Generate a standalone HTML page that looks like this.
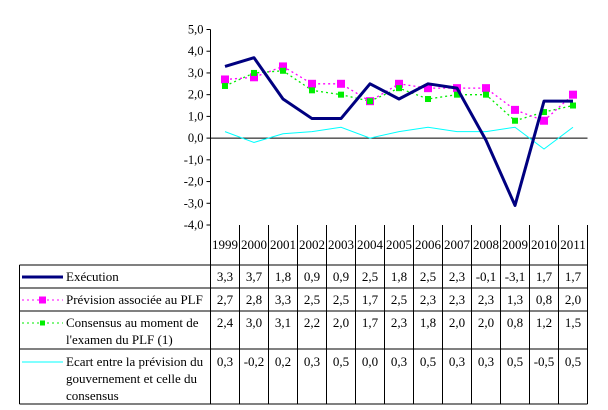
<!DOCTYPE html>
<html><head><meta charset="utf-8"><style>
body{margin:0;background:#fff;}
svg{display:block;font-family:"Liberation Serif",serif;}
</style></head><body>
<svg id="c" width="608" height="410" viewBox="0 0 608 410"></svg>
<script>
const years=["1999","2000","2001","2002","2003","2004","2005","2006","2007","2008","2009","2010","2011"];
const execution=[3.3,3.7,1.8,0.9,0.9,2.5,1.8,2.5,2.3,-0.1,-3.1,1.7,1.7];
const prevision=[2.7,2.8,3.3,2.5,2.5,1.7,2.5,2.3,2.3,2.3,1.3,0.8,2.0];
const consensus=[2.4,3.0,3.1,2.2,2.0,1.7,2.3,1.8,2.0,2.0,0.8,1.2,1.5];
const ecart=[0.3,-0.2,0.2,0.3,0.5,0.0,0.3,0.5,0.3,0.3,0.5,-0.5,0.5];
const yTicks=[5,4,3,2,1,0,-1,-2,-3,-4];
const NS="http://www.w3.org/2000/svg";
const svg=document.getElementById('c');
const X0=210.5,CW=29,Y5=29.5,Y4=225;
const xs=i=>X0+CW*(i+0.5);
const ys=v=>Y5+(5-v)*(Y4-Y5)/9;
function el(t,a,p){const e=document.createElementNS(NS,t);for(const k in a)e.setAttribute(k,a[k]);(p||svg).appendChild(e);return e;}
const fmt=v=>v.toFixed(1).replace('.',',');
let ax=el('line',{x1:X0,y1:Y5,x2:X0,y2:Y4,stroke:'#000','stroke-width':1});


yTicks.forEach(v=>{
  let t=el('line',{x1:X0-4,y1:ys(v),x2:X0,y2:ys(v),stroke:'#000'});
  
  
  let l=el('text',{x:X0-7,y:ys(v)+4,'text-anchor':'end','font-size':12.5,fill:'#000'});
  l.textContent=fmt(v);
  
  
});
let zl=el('line',{x1:X0,y1:ys(0),x2:X0+13*CW,y2:ys(0),stroke:'#000'});


const R=[265,288,311,349,404];
const XR=X0+13*CW, XL=19.5;
for(let i=0;i<=13;i++){let l=el('line',{x1:X0+CW*i,y1:Y4,x2:X0+CW*i,y2:R[4],stroke:'#000'});}
R.forEach(y=>{let l=el('line',{x1:XL,y1:y,x2:XR,y2:y,stroke:'#000'});});
let lb=el('line',{x1:XL,y1:R[0],x2:XL,y2:R[4],stroke:'#000'});


years.forEach((y,i)=>{let t=el('text',{x:xs(i),y:249,'text-anchor':'middle','font-size':13});t.textContent=y;});
const series=[execution,prevision,consensus,ecart];
const rowY=[281,304,327,366];
series.forEach((s,r)=>s.forEach((v,i)=>{let t=el('text',{x:xs(i),y:rowY[r],'text-anchor':'middle','font-size':13});t.textContent=fmt(v);}));
const legTexts=[["Exécution"],["Prévision associée au PLF"],["Consensus au moment de","l'examen du PLF (1)"],["Ecart entre la prévision du","gouvernement et celle du","consensus"]];
const styles=[{c:'#000080',w:3,d:null,m:0},{c:'#ff00ff',w:1,d:'2,3',m:7},{c:'#00ee00',w:1,d:'2,3',m:5},{c:'#00ffff',w:1,d:null,m:0}];
legTexts.forEach((ls,r)=>{
  const ly=rowY[r]-4;
  const st=styles[r];
  let l=el('line',{x1:22,y1:ly,x2:63,y2:ly,stroke:st.c,'stroke-width':st.w});
  if(st.d)l.setAttribute('stroke-dasharray',st.d);
  
  
  if(st.m){let m=el('rect',{x:42.5-st.m/2,y:ly-st.m/2,width:st.m,height:st.m,fill:st.c});}
  ls.forEach((tx,k)=>{let t=el('text',{x:66,y:rowY[r]+k*17,'font-size':13});t.textContent=tx;});
});
function path(s){return s.map((v,i)=>(i?'L':'M')+xs(i)+','+ys(v)).join(' ');}
let pe=el('path',{d:path(ecart),fill:'none',stroke:'#00ffff','stroke-width':1});

let pc=el('path',{d:path(consensus),fill:'none',stroke:'#00ee00','stroke-width':1.3,'stroke-dasharray':'2,3'});

let pp=el('path',{d:path(prevision),fill:'none',stroke:'#ff00ff','stroke-width':1.3,'stroke-dasharray':'2,3'});

prevision.forEach((v,i)=>{let m=el('rect',{x:xs(i)-4,y:ys(v)-4,width:8,height:8,fill:'#ff00ff'});});
consensus.forEach((v,i)=>{let m=el('rect',{x:xs(i)-3,y:ys(v)-3,width:6,height:6,fill:'#00ee00'});});
let px=el('path',{d:path(execution),fill:'none',stroke:'#000080','stroke-width':3,'stroke-linejoin':'round'});

</script>
</body></html>
